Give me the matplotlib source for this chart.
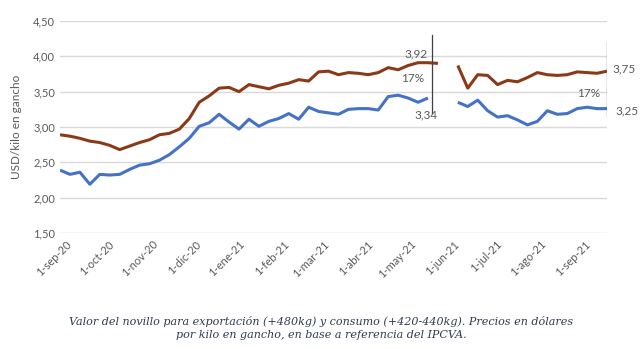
import numpy as np
import pandas as pd
import matplotlib
matplotlib.use("Agg")
import matplotlib.pyplot as plt
import matplotlib.transforms as mtransforms
from matplotlib.ticker import FuncFormatter

# semanas desde el 1-sep-20
fechas = pd.date_range("2020-09-01", periods=56, freq="7D")

# novillo exportacion (+480kg), USD/kilo en gancho
exportacion = [2.89, 2.87, 2.84, 2.80, 2.78, 2.74, 2.68, 2.73, 2.78, 2.82,
               2.89, 2.91, 2.97, 3.12, 3.35, 3.44, 3.55, 3.56, 3.50, 3.60,
               3.57, 3.54, 3.59, 3.62, 3.67, 3.65, 3.78, 3.79, 3.74, 3.77,
               3.76, 3.74, 3.77, 3.84, 3.81, 3.87, 3.91, 3.91, 3.90, np.nan,
               3.87, 3.55, 3.74, 3.73, 3.60, 3.66, 3.64, 3.70, 3.77, 3.74,
               3.73, 3.74, 3.78, 3.77, 3.76, 3.79]

# novillo consumo (+420-440kg)
consumo = [2.39, 2.33, 2.36, 2.19, 2.33, 2.32, 2.33, 2.40, 2.46, 2.48,
           2.53, 2.61, 2.72, 2.84, 3.01, 3.06, 3.18, 3.07, 2.97, 3.11,
           3.01, 3.08, 3.12, 3.19, 3.11, 3.28, 3.22, 3.20, 3.18, 3.25,
           3.26, 3.26, 3.24, 3.43, 3.45, 3.41, 3.35, 3.41, np.nan, np.nan,
           3.35, 3.29, 3.38, 3.23, 3.14, 3.16, 3.10, 3.03, 3.08, 3.23,
           3.18, 3.19, 3.26, 3.28, 3.26, 3.26]

meses = pd.date_range("2020-09-01", "2021-09-01", freq="MS")
etiquetas_meses = ["1-sep-20", "1-oct-20", "1-nov-20", "1-dic-20", "1-ene-21",
                   "1-feb-21", "1-mar-21", "1-abr-21", "1-may-21", "1-jun-21",
                   "1-jul-21", "1-ago-21", "1-sep-21"]

gris = "#595959"
marron = "#8B3A18"
azul = "#4472C4"

plt.rcParams["font.family"] = ["Lato", "DejaVu Sans"]

fig = plt.figure(figsize=(6.42, 3.49), dpi=100)
ax = fig.add_axes([60 / 642, 1 - 233 / 349, 547 / 642, 212 / 349])

ax.plot(fechas, exportacion, color=marron, lw=2.2, solid_capstyle="butt")
ax.plot(fechas, consumo, color=azul, lw=2.2, solid_capstyle="butt")

ax.set_xlim(fechas[0], fechas[-1])
ax.set_ylim(1.5, 4.5)
ax.set_yticks(np.arange(1.5, 4.51, 0.5))
ax.yaxis.set_major_formatter(FuncFormatter(lambda v, p: f"{v:.2f}".replace(".", ",")))
ax.grid(axis="y", color="#d9d9d9", lw=1)
ax.set_axisbelow(True)

ax.set_xticks(meses)
ax.set_xticklabels(etiquetas_meses, rotation=45, ha="right", rotation_mode="anchor")
ax.tick_params(axis="both", length=0, colors=gris, labelsize=8)
ax.tick_params(axis="x", pad=4)
# las etiquetas de Excel quedan algo corridas a la derecha
desplazamiento = mtransforms.ScaledTranslation(6 / 100, 0, fig.dpi_scale_trans)
for lbl in ax.get_xticklabels():
    lbl.set_transform(lbl.get_transform() + desplazamiento)
for s in ax.spines.values():
    s.set_visible(False)

ax.set_ylabel("USD/kilo en gancho", color=gris, fontsize=8.5, labelpad=8)

# marcas de la brecha
x_izq = fechas[37] + pd.Timedelta(days=3)
ax.plot([x_izq, x_izq], [3.20, 4.30], color="#404040", lw=0.9)
ax.plot([fechas[-1], fechas[-1]], [3.15, 4.20], color="#404040", lw=0.9)

ax.text(x_izq - pd.Timedelta(days=3), 4.03, "3,92", ha="right", va="center", color=gris, fontsize=8.5)
ax.text(x_izq - pd.Timedelta(days=6), 3.68, "17%", ha="right", va="center", color=gris, fontsize=8.5)
ax.text(x_izq + pd.Timedelta(days=4), 3.17, "3,34", ha="right", va="center", color=gris, fontsize=8.5)

ax.text(fechas[-1] + pd.Timedelta(days=4), 3.82, "3,75", ha="left", va="center", color=gris, fontsize=8.5, clip_on=False)
ax.text(fechas[-1] - pd.Timedelta(days=5), 3.48, "17%", ha="right", va="center", color=gris, fontsize=8.5)
ax.text(fechas[-1] + pd.Timedelta(days=6), 3.23, "3,25", ha="left", va="center", color=gris, fontsize=8.5, clip_on=False)

fig.text(0.5, 0.06,
         "Valor del novillo para exportación (+480kg) y consumo (+420-440kg). Precios en dólares\n"
         "por kilo en gancho, en base a referencia del IPCVA.",
         ha="center", va="center", fontsize=8.0, style="italic", family="DejaVu Serif",
         color="#2f3b52", linespacing=1.3)

fig.savefig("out.png", dpi=100)
